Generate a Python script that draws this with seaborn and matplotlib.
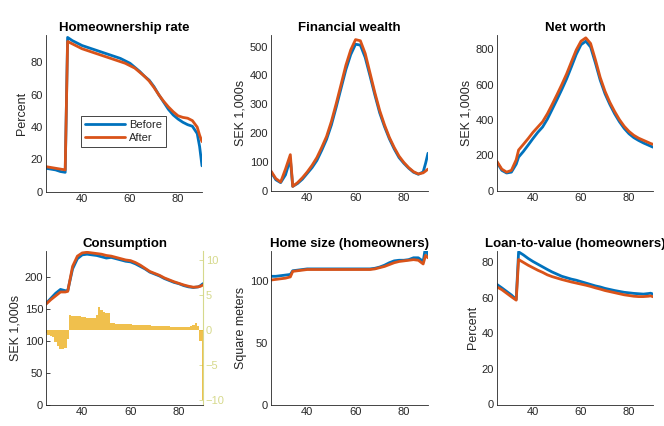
import matplotlib
matplotlib.use('Agg')
import matplotlib.pyplot as plt
import pandas as pd
import seaborn as sns

# ---- data (age profiles, before/after reform) ----
ages = [25, 27, 29, 31, 33, 34, 36, 38, 40, 42, 44, 46, 48, 50, 52, 54, 56, 58,
        60, 62, 64, 66, 68, 70, 72, 74, 76, 78, 80, 82, 84, 86, 88, 89, 90]

own_before = [14.5, 14, 13.5, 12.5, 12, 95.5, 93.5, 92, 90.5, 89.5, 88.5, 87.5, 86.5,
              85.5, 84.5, 83.5, 82.5, 81, 79.5, 77, 74.5, 71.5, 69, 65, 60, 55.5,
              51, 47.5, 45, 43, 41.5, 40.5, 36, 28, 16]
own_after = [15.5, 15, 14.5, 14, 13.5, 93, 91.5, 90, 88.5, 87.5, 86.5, 85.5, 84.5,
             83.5, 82.5, 81.5, 80.5, 79.5, 78, 76.5, 74, 71.5, 68.5, 64.5, 60, 56,
             52.5, 49.5, 47, 46, 45.5, 44, 40, 35, 31]

fin_before = [65, 38, 28, 55, 110, 15, 25, 40, 60, 80, 105, 140, 178, 228, 290, 355,
              420, 472, 508, 505, 462, 398, 332, 270, 222, 180, 145, 115, 95, 78,
              64, 57, 65, 95, 130]
fin_after = [68, 42, 30, 75, 125, 15, 28, 45, 65, 88, 115, 150, 188, 240, 302, 368,
             435, 488, 524, 520, 476, 408, 340, 278, 228, 185, 150, 120, 98, 80,
             66, 58, 62, 68, 75]

nw_before = [160, 115, 100, 105, 150, 190, 222, 258, 295, 330, 360, 405, 460, 515,
             572, 632, 700, 770, 825, 845, 812, 722, 625, 548, 488, 435, 390, 352,
             322, 300, 284, 270, 258, 252, 246]
nw_after = [165, 122, 105, 115, 175, 230, 262, 295, 330, 360, 390, 435, 488, 543,
            600, 660, 728, 795, 845, 864, 832, 740, 640, 562, 500, 448, 402, 364,
            335, 313, 297, 285, 273, 267, 262]

cons_before = [158, 166, 174, 180, 178, 178, 212, 228, 234, 235, 234, 233, 231, 229,
               230, 228, 226, 224, 223, 220, 216, 212, 207, 204, 201, 197, 194, 191,
               189, 186, 184, 183, 184, 186, 189]
cons_after = [157, 164, 170, 176, 176, 177, 216, 232, 237, 238, 237, 236, 235, 233,
              232, 230, 228, 226, 225, 222, 218, 213, 208, 205, 202, 198, 195, 192,
              189.5, 187, 185, 183.5, 184, 185, 187]

size_before = [104, 104, 104.5, 105, 105.5, 108.5, 109, 109.5, 110, 110, 110, 110,
               110, 110, 110, 110, 110, 110, 110, 110, 110, 110, 110.5, 111.5, 113,
               115, 116.5, 117, 117, 117.5, 119, 119, 116, 128, 121]
size_after = [101, 101.5, 102, 102.5, 103.5, 108, 108.5, 109, 109.5, 109.5, 109.5,
              109.5, 109.5, 109.5, 109.5, 109.5, 109.5, 109.5, 109.5, 109.5, 109.5,
              109.5, 110, 111, 112, 113.5, 115, 116, 116.5, 117, 117.5, 117, 114,
              121, 119]

ltv_before = [67.4, 65.5, 63.5, 61.5, 59, 85.7, 84, 82, 80.3, 78.8, 77.3, 75.8, 74.4,
              73.2, 72, 71.2, 70.4, 69.8, 69, 68.2, 67.4, 66.6, 66, 65.2, 64.6, 64,
              63.5, 63, 62.7, 62.4, 62.2, 62, 62.3, 62.5, 62]
ltv_after = [66, 64.5, 62.5, 60.5, 58.6, 81.4, 79.8, 78.2, 76.8, 75.4, 74.2, 72.8,
             71.8, 71, 70.2, 69.5, 68.8, 68.2, 67.6, 67, 66.3, 65.5, 64.8, 64, 63.4,
             62.8, 62.2, 61.6, 61.2, 60.8, 60.6, 60.6, 60.8, 61, 60.5]

# consumption change (percent), yearly bars on the right axis
bar_ages = list(range(25, 91))
cons_diff = [-0.4, -0.6, -0.8, -1.0, -1.6, -2.2, -2.6, -2.7, -2.5, -1.2,
             2.2, 2.1, 2.1, 2.0, 2.0, 1.9, 1.9, 1.8, 1.8, 1.7, 1.8, 2.2, 3.3, 2.9,
             2.6, 2.5, 2.4, 1.0, 1.0, 0.95, 0.95, 0.9, 0.9, 0.9, 0.85, 0.85, 0.8,
             0.8, 0.8, 0.75, 0.75, 0.7, 0.7, 0.7, 0.65, 0.65, 0.6, 0.6, 0.6, 0.55,
             0.55, 0.55, 0.5, 0.5, 0.5, 0.5, 0.45, 0.45, 0.5, 0.5, 0.6, 0.8, 1.0,
             0.6, -1.5, -10.0]

# ---- style ----
sns.set_theme(style='white')
plt.rcParams['font.family'] = ['Liberation Sans', 'DejaVu Sans']

BLUE = '#0072BD'
ORANGE = '#D95319'
YELLOW = '#EDB120'
TXT = '#262626'
RAX = '#d6d98c'

W, H = 664, 426
fig = plt.figure(figsize=(W / 100, H / 100), dpi=100)


def px_axes(left, top, right, bottom):
    return fig.add_axes([left / W, 1 - bottom / H, (right - left) / W, (bottom - top) / H])


def style(ax, title, ylabel, ylim, yticks):
    ax.set_xlim(25, 90)
    ax.set_xticks([40, 60, 80])
    ax.set_ylim(*ylim)
    ax.set_yticks(yticks)
    ax.set_title(title, fontsize=9.5, fontweight='bold', color='black', pad=3)
    ax.set_ylabel(ylabel, fontsize=9, color=TXT, labelpad=2)
    ax.set_xlabel('')
    for s in ['top', 'right']:
        ax.spines[s].set_visible(False)
    for s in ['left', 'bottom']:
        ax.spines[s].set_color(TXT)
        ax.spines[s].set_linewidth(0.6)
    ax.tick_params(direction='in', length=3, width=0.6, labelsize=8,
                   colors=TXT, pad=2)


def draw(ax, before, after, legend=False):
    df = pd.DataFrame({'age': ages + ages,
                       'value': before + after,
                       'scenario': ['Before'] * len(ages) + ['After'] * len(ages)})
    sns.lineplot(data=df, x='age', y='value', hue='scenario',
                 palette={'Before': BLUE, 'After': ORANGE}, linewidth=2,
                 ax=ax, legend=legend)


panels = [
    # title, ylabel, before, after, ylim, yticks, (left, top, right, bottom)
    ('Homeownership rate', 'Percent', own_before, own_after, (0, 97),
     [0, 20, 40, 60, 80], (46, 35, 202, 191.7)),
    ('Financial wealth', 'SEK 1,000s', fin_before, fin_after, (0, 540),
     [0, 100, 200, 300, 400, 500], (271, 35, 428, 190.7)),
    ('Net worth', 'SEK 1,000s', nw_before, nw_after, (0, 880),
     [0, 200, 400, 600, 800], (497, 35, 653, 190.7)),
    ('Consumption', 'SEK 1,000s', cons_before, cons_after, (0, 240),
     [0, 50, 100, 150, 200], (46, 251, 203, 404.7)),
    ('Home size (homeowners)', 'Square meters', size_before, size_after, (0, 124.5),
     [0, 50, 100], (271, 251, 428, 404.7)),
    ('Loan-to-value (homeowners)', 'Percent', ltv_before, ltv_after, (0, 86.2),
     [0, 20, 40, 60, 80], (497, 251, 653, 404.5)),
]

for i, (title, ylabel, before, after, ylim, yticks, pos) in enumerate(panels):
    ax = px_axes(*pos)
    if title == 'Consumption':
        ax2 = ax.twinx()
        sns.barplot(x=bar_ages, y=cons_diff, native_scale=True, width=1,
                    color=YELLOW, saturation=1, alpha=0.8, linewidth=0, ax=ax2)
        ax2.set_ylim(-10.6, 11.3)
        ax2.set_yticks([-10, -5, 0, 5, 10])
        ax2.set_xlim(25, 90)
        ax2.set_ylabel('')
        for s in ['top', 'left', 'bottom']:
            ax2.spines[s].set_visible(False)
        ax2.spines['right'].set_color(RAX)
        ax2.spines['right'].set_linewidth(0.8)
        ax2.tick_params(axis='y', direction='in', length=3, width=0.6,
                        labelsize=8, colors=RAX, pad=2)
        ax.set_zorder(ax2.get_zorder() + 1)
        ax.patch.set_visible(False)
    draw(ax, before, after, legend=(i == 0))
    style(ax, title, ylabel, ylim, yticks)
    if i == 0:
        handles, labels = ax.get_legend_handles_labels()
        leg = ax.legend(handles, labels, loc='lower left',
                        bbox_to_anchor=(0.227, 0.285), borderaxespad=0,
                        fontsize=8, handlelength=3.6, handletextpad=0.3,
                        borderpad=0.35, labelspacing=0.3, fancybox=False,
                        framealpha=1, edgecolor=TXT)
        leg.get_frame().set_linewidth(0.6)

fig.savefig('out.png', dpi=100, facecolor='white')
